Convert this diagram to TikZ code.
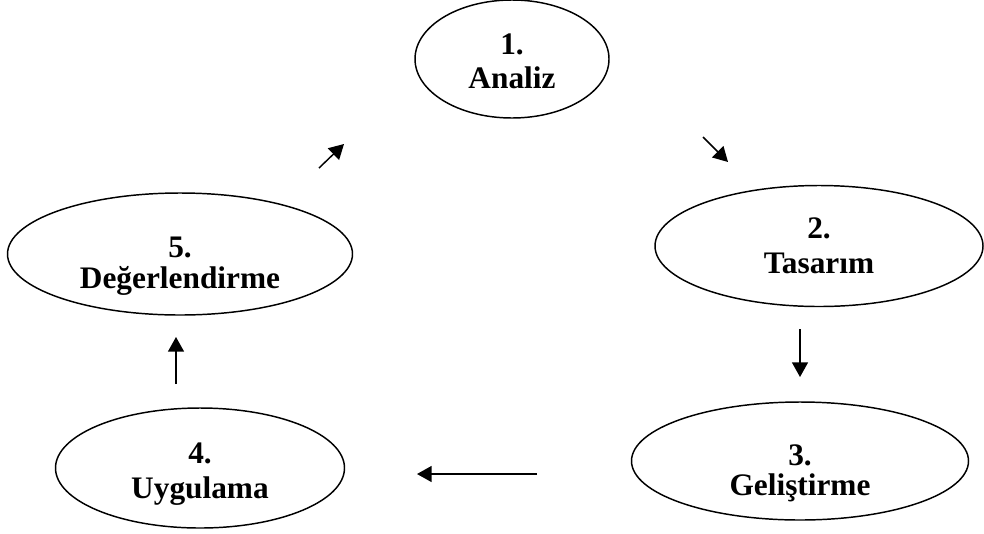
\documentclass[tikz,border=0pt]{standalone}
\usepackage{fontspec}
\setmainfont{Liberation Serif}
\usetikzlibrary{shapes.geometric,arrows.meta}
\begin{document}
\begin{tikzpicture}[x=0.75pt,y=-0.75pt,
  evre/.style={draw,ellipse,line width=1.1pt,inner sep=0pt,align=center,
    font=\fontsize{23.5}{26}\selectfont\bfseries},
  ok/.style={line width=1.1pt,-{Triangle[length=11pt,width=12pt]}}]
  \useasboundingbox (0,0) rectangle (984,533);
  % evreler
  \node[evre,minimum width=145.5pt,minimum height=88.5pt] (analiz) at (512,59) {\rule{0pt}{19pt}1.\\Analiz};
  \node[evre,minimum width=246pt,minimum height=90.75pt] (tasarim) at (819,246) {2.\\Tasarım};
  \node[evre,minimum width=252.75pt,minimum height=88.5pt] (gelistirme) at (800,461) {\rule{0pt}{34pt}3.\\[-3pt]Geliştirme};
  \node[evre,minimum width=216.75pt,minimum height=90pt] (uygulama) at (200,468) {\rule{0pt}{25pt}4.\\Uygulama};
  \node[evre,minimum width=258.75pt,minimum height=91.5pt] (degerlendirme) at (180,254) {\rule{0pt}{34pt}5.\\[-3pt]Değerlendirme};
  % oklar
  \coordinate (o12s) at (703,137);  \coordinate (o12e) at (728,162);
  \coordinate (o23s) at (800,329);  \coordinate (o23e) at (800,377);
  \coordinate (o34s) at (537,474);  \coordinate (o34e) at (417,474);
  \coordinate (o45s) at (176,384);  \coordinate (o45e) at (176,337);
  \coordinate (o51s) at (319,168);  \coordinate (o51e) at (344,144);
  \draw[ok] (o12s) -- (o12e);
  \draw[ok] (o23s) -- (o23e);
  \draw[ok] (o34s) -- (o34e);
  \draw[ok] (o45s) -- (o45e);
  \draw[ok] (o51s) -- (o51e);
\end{tikzpicture}
\end{document}
